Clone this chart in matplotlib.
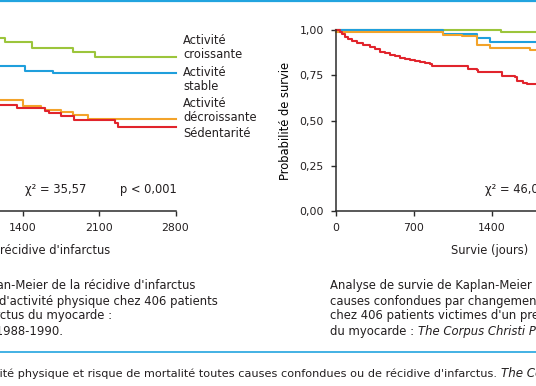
import matplotlib
matplotlib.use("Agg")
import matplotlib.pyplot as plt
from matplotlib.lines import Line2D

# ---------------- data ----------------
xticks = [0, 700, 1400, 2100, 2800]
xtick_labels = ["0", "700", "1400", "2100", "2800"]
yticks = [0.0, 0.25, 0.50, 0.75, 1.00]
ytick_labels = ["0,00", "0,25", "0,50", "0,75", "1,00"]

# Left panel: recurrence-free survival (step curves)
rec_green_t = [0, 600, 1240, 1490, 1865, 2063, 2800]
rec_green_p = [1.0, 0.954, 0.932, 0.899, 0.877, 0.853, 0.853]
rec_blue_t = [0, 700, 1423, 1682, 2800]
rec_blue_p = [1.0, 0.803, 0.776, 0.761, 0.761]
rec_orange_t = [0, 600, 1407, 1566, 1606, 1752, 1865, 2002, 2800]
rec_orange_p = [1.0, 0.614, 0.583, 0.572, 0.559, 0.547, 0.532, 0.512, 0.512]
rec_red_t = [0, 600, 1352, 1606, 1645, 1749, 1871, 2246, 2277, 2800]
rec_red_p = [1.0, 0.587, 0.569, 0.554, 0.541, 0.528, 0.505, 0.489, 0.467, 0.467]

# Right panel: all-cause survival
surv_green_t = [0, 1485, 2800]
surv_green_p = [1.0, 0.987, 0.987]
surv_blue_t = [0, 968, 1267, 1387, 2800]
surv_blue_p = [1.0, 0.978, 0.954, 0.936, 0.936]
surv_orange_t = [0, 968, 1132, 1267, 1387, 1745, 2800]
surv_orange_p = [0.987, 0.975, 0.967, 0.917, 0.902, 0.890, 0.890]
surv_red_t = [0, 40, 55, 85, 115, 145, 190, 250, 310, 354, 399, 444, 489,
              534, 579, 624, 669, 714, 759, 803, 848, 863, 1192, 1267, 1282,
              1492, 1611, 1626, 1685, 1716, 2800]
surv_red_p = [1.0, 0.991, 0.978, 0.963, 0.949, 0.938, 0.930, 0.919, 0.908,
              0.895, 0.881, 0.871, 0.862, 0.855, 0.848, 0.840, 0.835, 0.829,
              0.824, 0.818, 0.813, 0.802, 0.783, 0.780, 0.767, 0.747, 0.743,
              0.721, 0.706, 0.701, 0.701]

legend_labels = ["Activité\ncroissante", "Activité\nstable",
                 "Activité\ndécroissante", "Sédentarité"]

# ---------------- style ----------------
C_GREEN = "#9cc53b"
C_BLUE = "#1f9fdc"
C_ORANGE = "#f3a32a"
C_RED = "#e1242c"
C_TEXT = "#231f20"
C_AXIS = "#2b2b2b"
C_RULE = "#22a4df"

plt.rcParams["font.family"] = ["DejaVu Sans"]
plt.rcParams["text.color"] = C_TEXT

W, H = 536, 386
fig = plt.figure(figsize=(W / 100, H / 100), dpi=100)


def fx(x):
    return x / W


def fy(y):
    return 1 - y / H


Y0, Y1 = 211.5, 30.0  # pixel rows of p=0 and p=1
FS = 8.3
FC = 8.35
FT = 7.8


def make_axes(x0_px, x2800_px):
    ax = fig.add_axes([fx(x0_px), fy(Y0), (x2800_px - x0_px) / W, (Y0 - Y1) / H])
    ax.set_xlim(0, 2800)
    ax.set_ylim(0, 1)
    for s in ("top", "right"):
        ax.spines[s].set_visible(False)
    for s in ("left", "bottom"):
        ax.spines[s].set_color(C_AXIS)
        ax.spines[s].set_linewidth(1.1)
    ax.set_xticks(xticks)
    ax.set_xticklabels(xtick_labels)
    ax.set_yticks(yticks)
    ax.set_yticklabels(ytick_labels)
    ax.tick_params(direction="out", length=3.5, width=1.0, color=C_AXIS,
                   labelsize=FT, labelcolor=C_TEXT, pad=5)
    ax.patch.set_alpha(0)
    return ax


LW = 1.5
axL = make_axes(-130.5, 175.5)
for t, p, c in [(rec_green_t, rec_green_p, C_GREEN),
                (rec_blue_t, rec_blue_p, C_BLUE),
                (rec_orange_t, rec_orange_p, C_ORANGE),
                (rec_red_t, rec_red_p, C_RED)]:
    axL.step(t, p, where="post", color=c, lw=LW, clip_on=False)

axR = make_axes(335.5, 647.5)
for t, p, c in [(surv_green_t, surv_green_p, C_GREEN),
                (surv_blue_t, surv_blue_p, C_BLUE),
                (surv_orange_t, surv_orange_p, C_ORANGE),
                (surv_red_t, surv_red_p, C_RED)]:
    axR.step(t, p, where="post", color=c, lw=LW, clip_on=False)
axR.set_ylabel("Probabilité de survie", fontsize=FS, labelpad=5)

# legend labels on left panel
leg_y = [47.5, 80, 110.8, 133.3]
for lab, y in zip(legend_labels, leg_y):
    fig.text(fx(183), fy(y), lab, fontsize=FS, ha="left", va="center",
             linespacing=1.1)

# statistics
fig.text(fx(25), fy(190), "χ² = 35,57", fontsize=FS, ha="left", va="center")
fig.text(fx(120), fy(190), "p < 0,001", fontsize=FS, ha="left", va="center")
fig.text(fx(485), fy(190), "χ² = 46,04      p < 0,001", fontsize=FS,
         ha="left", va="center")

# axis titles
fig.text(fx(110), fy(250), "Survie sans récidive d'infarctus", fontsize=FS,
         ha="right", va="center")
fig.text(fx(490), fy(250.5), "Survie (jours)", fontsize=FS, ha="center",
         va="center")

# captions
cap_y = [285.5, 301, 316, 331.5]
left_caption = [
    ("Analyse de survie de Kaplan-Meier de la récidive d'infarctus", 195),
    ("par changement d'activité physique chez 406 patients", 218),
    ("victimes d'un premier infarctus du myocarde :", 112),
    ("The Corpus Christi Project, 1988-1990.", 63),
]
for (txt, xend), y in zip(left_caption, cap_y):
    fig.text(fx(xend), fy(y), txt, fontsize=FC, ha="right", va="center")

right_caption = [
    "Analyse de survie de Kaplan-Meier de la mortalité toutes",
    "causes confondues par changement d'activité physique",
    "chez 406 patients victimes d'un premier infarctus",
]
for txt, y in zip(right_caption, cap_y[:3]):
    fig.text(fx(330), fy(y), txt, fontsize=FC, ha="left", va="center")
t4 = fig.text(fx(330), fy(cap_y[3]), "du myocarde : ", fontsize=FC,
              ha="left", va="center")
fig.canvas.draw()
bb = t4.get_window_extent()
fig.text(bb.x1 / fig.bbox.width, fy(cap_y[3]),
         "The Corpus Christi Project, 1988-1990.", fontsize=FC,
         style="italic", ha="left", va="center")

# rules
fig.add_artist(Line2D([0, 1], [fy(1.2)] * 2, transform=fig.transFigure,
                      color=C_RULE, lw=1.6))
fig.add_artist(Line2D([0, 1], [fy(352)] * 2, transform=fig.transFigure,
                      color=C_RULE, lw=1.2))

# bottom figure title
fig.text(fx(497), fy(373.5),
         "Figure. Activité physique et risque de mortalité toutes causes "
         "confondues ou de récidive d'infarctus.",
         fontsize=8.1, ha="right", va="center")
fig.text(fx(501), fy(373.5), "The Corpus Christi Project", fontsize=8.6,
         ha="left", va="center", style="italic")

fig.savefig("out.png", dpi=100)
